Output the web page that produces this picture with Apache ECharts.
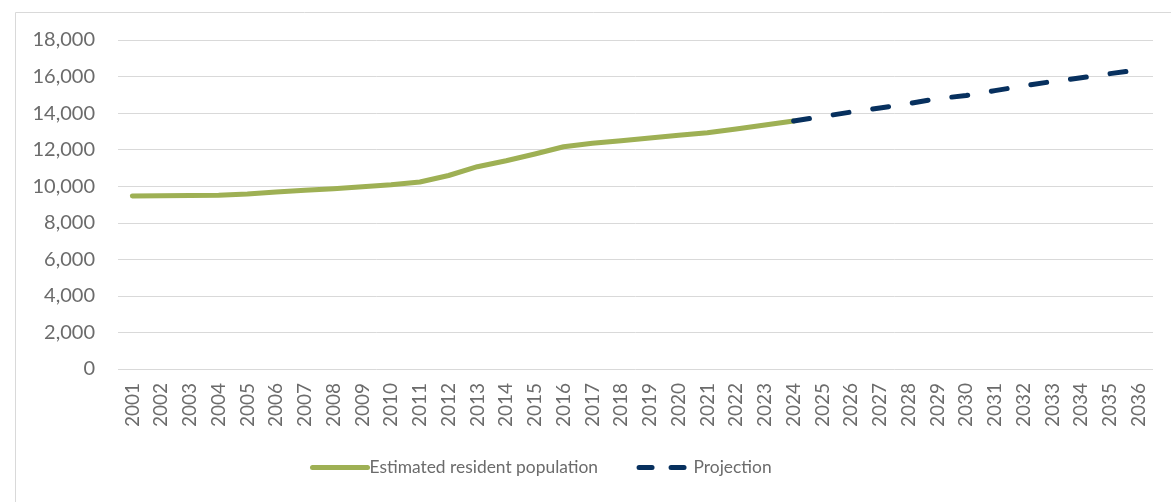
<!DOCTYPE html>
<html>
<head>
<meta charset="utf-8">
<script src="https://cdn.jsdelivr.net/npm/echarts@6/dist/echarts.min.js"></script>
<style>
  html, body { margin: 0; padding: 0; background: #ffffff; }
  #chart { width: 1171px; height: 502px; }
</style>
</head>
<body>
<div id="chart"></div>
<script>
const years = ['2001','2002','2003','2004','2005','2006','2007','2008','2009','2010','2011','2012',
  '2013','2014','2015','2016','2017','2018','2019','2020','2021','2022','2023','2024',
  '2025','2026','2027','2028','2029','2030','2031','2032','2033','2034','2035','2036'];

const estimatedResident = [9465, 9475, 9486, 9503, 9574, 9680, 9777, 9859, 9973, 10083, 10231, 10586,
  11068, 11396, 11762, 12162, 12348, 12490, 12638, 12786, 12928, 13130, 13349, 13568];

const projectionYears = ['2024','2025','2026','2027','2028','2029','2030','2031','2032','2033','2034','2035','2036'];
const projectionValues = [13568, 13810, 14060, 14280, 14520, 14790, 14960, 15230, 15490, 15730, 15930, 16160, 16360];

const yMin = 0, yMax = 18000, yStep = 2000;

const seriesNames = ['Estimated resident population', 'Projection'];

const estData = years.map((y, i) => i < estimatedResident.length ? estimatedResident[i] : null);
const projData = years.map(y => {
  const k = projectionYears.indexOf(y);
  return k >= 0 ? projectionValues[k] : null;
});

const chart = echarts.init(document.getElementById('chart'), null, { renderer: 'canvas' });
const labelColor = '#6b6b6b';
const fontFam = 'Lato, "Open Sans", sans-serif';
const green = '#9eb054';
const navy = '#07305e';

chart.setOption({
  animation: false,
  backgroundColor: '#ffffff',
  graphic: [{
    type: 'rect',
    shape: { x: 15.5, y: 12.5, width: 1300, height: 700 },
    style: { fill: 'none', stroke: '#d9d9d9', lineWidth: 1 },
    silent: true
  }],
  grid: { left: 118, right: 18, top: 40, bottom: 133, containLabel: false },
  legend: {
    left: 310,
    top: 459,
    padding: 0,
    itemWidth: 55,
    itemHeight: 14,
    itemGap: 36,
    itemStyle: { opacity: 0 },
    textStyle: { color: labelColor, fontSize: 17.4, fontFamily: fontFam, padding: [0, 0, 0, -3] },
    data: [
      { name: seriesNames[0], lineStyle: { color: green, width: 5, cap: 'round', type: 'solid' } },
      { name: seriesNames[1], lineStyle: { color: navy, width: 5, cap: 'round', type: [13, 19], dashOffset: -2.5 } }
    ]
  },
  xAxis: {
    type: 'category',
    data: years,
    boundaryGap: true,
    axisLine: { show: false },
    axisTick: { show: false },
    axisLabel: { rotate: 90, color: labelColor, fontSize: 19, fontFamily: fontFam, margin: 14, interval: 0 },
    splitLine: { show: false }
  },
  yAxis: {
    type: 'value',
    min: yMin,
    max: yMax,
    interval: yStep,
    axisLine: { show: false },
    axisTick: { show: false },
    axisLabel: {
      color: labelColor, fontSize: 20, fontFamily: fontFam, margin: 23,
      formatter: v => v.toLocaleString('en-US')
    },
    splitLine: { lineStyle: { color: '#d9d9d9', width: 1 } }
  },
  series: [
    {
      name: seriesNames[0],
      type: 'line',
      data: estData,
      symbol: 'none',
      connectNulls: false,
      lineStyle: { color: green, width: 5, cap: 'round', join: 'round' },
      itemStyle: { color: green },
      z: 3
    },
    {
      name: seriesNames[1],
      type: 'line',
      data: projData,
      symbol: 'none',
      connectNulls: false,
      lineStyle: { color: navy, width: 5, type: [16, 24], cap: 'round', join: 'round' },
      itemStyle: { color: navy },
      z: 4
    }
  ]
});
</script>
</body>
</html>
